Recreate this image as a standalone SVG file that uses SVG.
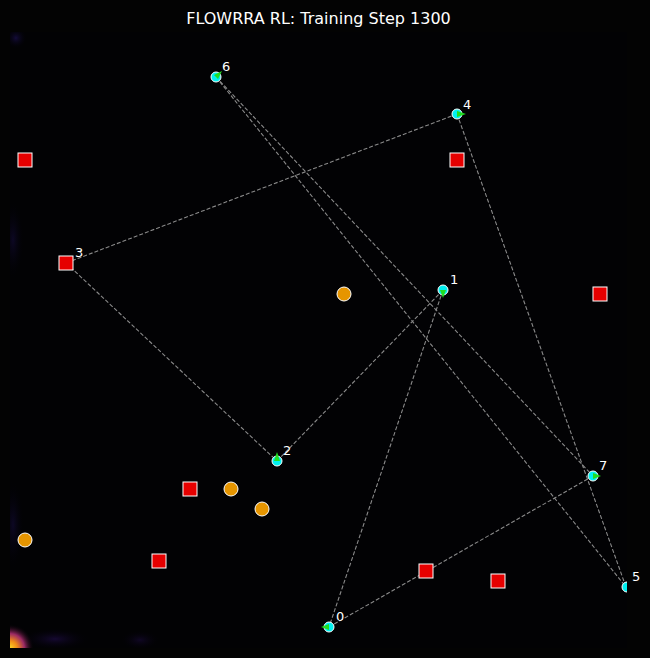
<svg xmlns="http://www.w3.org/2000/svg" width="650" height="658" viewBox="0 0 650 658">
<style>
.title{font-family:"DejaVu Sans",sans-serif;font-size:16px;fill:#ffffff;text-anchor:middle}
.lbl{font-family:"DejaVu Sans",sans-serif;font-size:13px;fill:#ffffff}
.edge{stroke:#8a8a8a;stroke-width:1.1;stroke-dasharray:4,2;fill:none}
.agent{fill:#00f0f0;stroke:#ffffff;stroke-width:1}
.dir{fill:#22dd22}
.obs{fill:#e60000;stroke:#ffffff;stroke-width:1}
.goal{fill:#e69500;stroke:#ffffff;stroke-width:1}
</style>
<defs>
<clipPath id="ax"><rect x="10" y="32" width="617" height="616"/></clipPath>
<radialGradient id="hot" cx="0" cy="1" r="1">
<stop offset="0" stop-color="#fbd424"/>
<stop offset="0.3" stop-color="#f08a18"/>
<stop offset="0.6" stop-color="#9b2964"/>
<stop offset="1" stop-color="#000004" stop-opacity="0"/>
</radialGradient>
<radialGradient id="faint" cx="0.5" cy="0.5" r="0.5">
<stop offset="0" stop-color="#140c3a"/>
<stop offset="1" stop-color="#000004" stop-opacity="0"/>
</radialGradient>
<radialGradient id="faintP" cx="0.5" cy="0.5" r="0.5">
<stop offset="0" stop-color="#1e0c45"/>
<stop offset="1" stop-color="#000004" stop-opacity="0"/>
</radialGradient>
</defs>
<rect width="650" height="658" fill="#030303"/>
<g id="heatmap" clip-path="url(#ax)">
<rect x="10" y="32" width="617" height="616" fill="#020204"/>
<rect x="5" y="27" width="22" height="22" fill="url(#faint)"/>
<rect x="2" y="200" width="22" height="80" fill="url(#faint)" opacity="0.6"/>
<rect x="2" y="480" width="22" height="90" fill="url(#faint)" opacity="0.6"/>
<rect x="20" y="628" width="70" height="22" fill="url(#faintP)" opacity="0.7"/>
<rect x="120" y="630" width="40" height="20" fill="url(#faintP)" opacity="0.5"/>
<rect x="10" y="624" width="24" height="24" fill="url(#hot)"/>
</g>
<text class="title" x="318.5" y="24">FLOWRRA RL: Training Step 1300</text>
<g id="connectors">
<line class="edge" x1="216" y1="77" x2="593" y2="476"/>
<line class="edge" x1="216" y1="77" x2="626" y2="587"/>
<line class="edge" x1="457" y1="114" x2="66" y2="263"/>
<line class="edge" x1="457" y1="114" x2="626" y2="587"/>
<line class="edge" x1="66" y1="263" x2="277" y2="461"/>
<line class="edge" x1="277" y1="461" x2="443" y2="290"/>
<line class="edge" x1="443" y1="290" x2="329" y2="627"/>
<line class="edge" x1="329" y1="627" x2="593" y2="476"/>
</g>
<g id="goals">
<circle class="goal" cx="344" cy="294" r="7"/>
<circle class="goal" cx="231" cy="489" r="7"/>
<circle class="goal" cx="262" cy="509" r="7"/>
<circle class="goal" cx="25" cy="540" r="7"/>
</g>
<g id="agents" clip-path="url(#ax)">
<g id="node0"><circle class="agent" cx="329" cy="627" r="5"/><polygon class="dir" points="321,627 329,624 329,630"/></g>
<g id="node1"><circle class="agent" cx="443" cy="290" r="5"/><polygon class="dir" points="443,298 440,290 446,290"/></g>
<g id="node2"><circle class="agent" cx="277" cy="461" r="5"/><polygon class="dir" points="277,452 274,461 280,461"/></g>
<g id="node3"><circle class="agent" cx="66" cy="263" r="5"/></g>
<g id="node4"><circle class="agent" cx="457" cy="114" r="5"/><polygon class="dir" points="466,114 457,111 457,117"/></g>
<g id="node5"><circle class="agent" cx="627" cy="587" r="5"/></g>
<g id="node6"><circle class="agent" cx="216" cy="77" r="5"/><polygon class="dir" points="222,71 214,75 218,79"/></g>
<g id="node7"><circle class="agent" cx="593" cy="476" r="5"/><polygon class="dir" points="601,476 593,473 593,479"/></g>
</g>
<g id="obstacles">
<rect class="obs" x="18" y="153" width="14" height="14"/>
<rect class="obs" x="450" y="153" width="14" height="14"/>
<rect class="obs" x="59" y="256" width="14" height="14"/>
<rect class="obs" x="593" y="287" width="14" height="14"/>
<rect class="obs" x="183" y="482" width="14" height="14"/>
<rect class="obs" x="152" y="554" width="14" height="14"/>
<rect class="obs" x="419" y="564" width="14" height="14"/>
<rect class="obs" x="491" y="574" width="14" height="14"/>
</g>
<g id="labels">
<text class="lbl" x="336" y="621">0</text>
<text class="lbl" x="450" y="284">1</text>
<text class="lbl" x="283" y="455">2</text>
<text class="lbl" x="75" y="257">3</text>
<text class="lbl" x="463" y="109">4</text>
<text class="lbl" x="632" y="581">5</text>
<text class="lbl" x="222" y="71">6</text>
<text class="lbl" x="599" y="470">7</text>
</g>
</svg>
